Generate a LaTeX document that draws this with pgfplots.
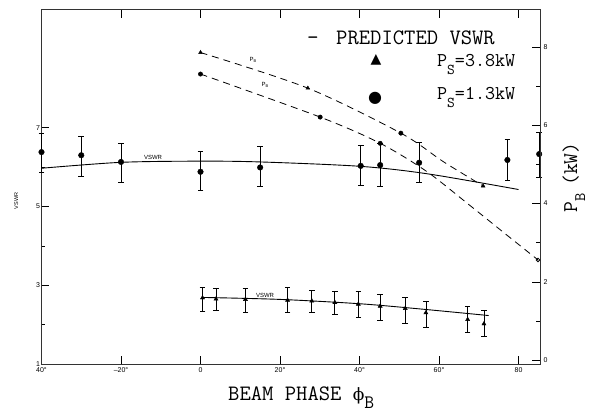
\documentclass[border=0pt]{standalone}
\usepackage{pgfplots}
\pgfplotsset{compat=1.18}
\usepackage{fontspec}
\setmainfont{Liberation Serif}
\newfontfamily\sans{Liberation Sans}
\newfontfamily\dejavu{DejaVu Sans}
\newfontfamily\dserif{DejaVu Serif}

\begin{document}
\begin{tikzpicture}
\path[use as bounding box] (0pt,0pt) rectangle (595pt,413pt);
\begin{axis}[
  at={(41.5pt,49pt)}, anchor=south west,
  scale only axis, width=498.5pt, height=354.5pt,
  xmin=-40, xmax=85.4, ymin=1, ymax=10,
  clip=false,
  axis line style={black!80, line width=0.5pt},
  tick align=inside,
  major tick length=8pt, minor tick length=4pt,
  xtick={-40,-20,0,20,40,60,80},
  xticklabels={40°,–20°,0,20°,40°,60°,80},
  xtick pos=both, xticklabel pos=left,
  ytick={1,3,5,7}, minor ytick={2,4,6},
  ytick pos=left,
  tick style={black, line width=0.5pt},
  ticklabel style={font=\sans\fontsize{7}{7}\selectfont},
  yticklabel style={xshift=2pt},
  /pgf/number format/assume math mode=true,
]
% predicted VSWR curves
\addplot[smooth, line width=0.9pt] coordinates {(-40,5.97) (-20,6.12) (0,6.15) (15,6.13) (40,6.02) (57,5.83) (80,5.43)};
\addplot[smooth, line width=0.9pt] coordinates {(0.5,2.69) (20,2.64) (40,2.53) (55,2.40) (72.5,2.23)};
% measured VSWR, P_S = 1.3 kW
\addplot[only marks, mark=*, mark size=2.8pt, black,
  error bars/.cd, y dir=both, y explicit, error mark=|,
  error bar style={line width=0.8pt},
  error mark options={black, mark size=2.8pt, line width=0.8pt}]
  coordinates {
  (-40,6.38) += (0,0.48) -= (0,0.51)
  (-30,6.30) += (0,0.49) -= (0,0.53)
  (-20,6.13) += (0,0.48) -= (0,0.51)
  (0,5.88) += (0,0.53) -= (0,0.48)
  (15,5.99) += (0,0.53) -= (0,0.49)
  (40.3,6.03) += (0,0.52) -= (0,0.50)
  (45.2,6.05) += (0,0.56) -= (0,0.53)
  (55,6.11) += (0,0.51) -= (0,0.51)
  (77.2,6.18) += (0,0.51) -= (0,0.51)
  (85.2,6.33) += (0,0.54) -= (0,0.58)
  };
% measured VSWR, P_S = 3.8 kW
\addplot[only marks, mark=triangle*, mark size=2.4pt, black,
  error bars/.cd, y dir=both, y explicit, error mark=|,
  error bar style={line width=0.8pt},
  error mark options={black, mark size=2.8pt, line width=0.8pt}]
  coordinates {
  (0.5,2.68) += (0,0.27) -= (0,0.35)
  (3.9,2.65) += (0,0.28) -= (0,0.30)
  (11.3,2.64) += (0,0.29) -= (0,0.32)
  (21.9,2.62) += (0,0.32) -= (0,0.30)
  (28,2.60) += (0,0.28) -= (0,0.30)
  (33.8,2.56) += (0,0.29) -= (0,0.29)
  (39.7,2.52) += (0,0.32) -= (0,0.33)
  (45.2,2.47) += (0,0.29) -= (0,0.37)
  (51.5,2.41) += (0,0.27) -= (0,0.37)
  (56.7,2.30) += (0,0.28) -= (0,0.37)
  (67.2,2.13) += (0,0.34) -= (0,0.32)
  (71.3,2.02) += (0,0.35) -= (0,0.31)
  };
\end{axis}
\begin{axis}[
  at={(41.5pt,49pt)}, anchor=south west,
  scale only axis, width=498.5pt, height=354.5pt,
  xmin=-40, xmax=85.4, ymin=-0.1, ymax=8.96,
  clip=false,
  axis x line=none, axis y line*=right,
  axis line style={black!80, line width=0.5pt},
  tick align=inside,
  major tick length=8pt, minor tick length=4pt,
  ytick={0,2,4,6,8}, minor ytick={1,3,5,7},
  tick style={black, line width=0.5pt},
  ticklabel style={font=\sans\fontsize{7}{7}\selectfont},
  /pgf/number format/assume math mode=true,
]
% predicted beam power P_B
\addplot[smooth, line width=0.8pt, dash pattern=on 7pt off 5pt] coordinates {(0,7.86) (27,6.95) (50.4,5.80) (61.1,5.07) (71.1,4.45)};
\addplot[smooth, line width=0.8pt, dash pattern=on 7pt off 5pt] coordinates {(0,7.31) (30.1,6.21) (45.2,5.54) (56.9,4.82) (67.8,3.95) (77,3.2) (84.9,2.56)};
\addplot[only marks, mark=triangle*, mark size=2.2pt, black] coordinates {(0,7.86) (27,6.95) (71.1,4.45)};
\addplot[only marks, mark=*, mark size=2.2pt, black] coordinates {(50.4,5.80) (0,7.31) (30.1,6.21) (45.2,5.54)};
\addplot[only marks, mark=o, mark size=1.8pt, black, line width=0.8pt] coordinates {(84.9,2.56)};
\end{axis}
% legend
\node[anchor=base west, inner sep=0pt, font=\ttfamily\fontsize{22.5}{22.5}\selectfont] at (307pt,368pt) {-};
\node[anchor=base west, inner sep=0pt, font=\ttfamily\fontsize{22}{22}\selectfont] at (336pt,368pt) {PREDICTED VSWR};
\node[inner sep=0pt, font=\dejavu\fontsize{14}{14}\selectfont] at (376pt,353pt) {▲};
\node[inner sep=0pt, font=\dejavu\fontsize{16}{16}\selectfont] at (375pt,315pt) {●};
\node[anchor=base west, inner sep=0pt, font=\ttfamily\fontsize{19.5}{19.5}\selectfont] at (437pt,346.3pt) {P\raisebox{-8pt}{\fontsize{15}{15}\selectfont S}=3.8kW};
\node[anchor=base west, inner sep=0pt, font=\ttfamily\fontsize{19.5}{19.5}\selectfont] at (437pt,313pt) {P\raisebox{-8pt}{\fontsize{15}{15}\selectfont S}=1.3kW};
% axis titles
\node[anchor=base west, inner sep=0pt, font=\ttfamily\fontsize{22}{22}\selectfont] at (228pt,12.5pt) {BEAM PHASE {\dserif\fontsize{17}{17}\selectfont ϕ}\raisebox{-8pt}{\fontsize{19}{19}\selectfont B}};
\node[anchor=base west, rotate=90, inner sep=0pt, font=\ttfamily\fontsize{21}{21}\selectfont] at (577pt,200pt) {P\raisebox{-8pt}{\fontsize{16}{16}\selectfont B}\hspace{8pt}(kW)};
\node[anchor=base, rotate=90, inner sep=0pt, font=\sans\fontsize{5.5}{5.5}\selectfont] at (18pt,212pt) {VSWR};
% curve labels
\node[inner sep=0pt, font=\sans\fontsize{6}{6}\selectfont] at (153pt,256pt) {VSWR};
\node[inner sep=0pt, font=\sans\fontsize{6}{6}\selectfont] at (265pt,118pt) {VSWR};
\node[inner sep=0pt, font=\sans\fontsize{6}{6}\selectfont] at (253pt,353pt) {P\raisebox{-1.5pt}{\fontsize{4}{4}\selectfont B}};
\node[inner sep=0pt, font=\sans\fontsize{6}{6}\selectfont] at (265pt,328pt) {P\raisebox{-1.5pt}{\fontsize{4}{4}\selectfont B}};
\end{tikzpicture}
\end{document}
